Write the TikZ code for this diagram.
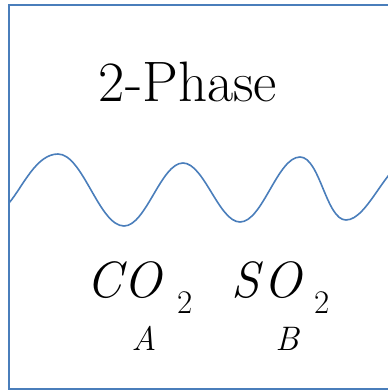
\documentclass[tikz,border=0pt]{standalone}
\usepackage{fontspec}
\usepackage{xcolor}
\usepackage{tikz}
\definecolor{linieblau}{RGB}{74,126,187}

\begin{document}
\begin{tikzpicture}[
  x=1pt,y=-1pt,
  rahmen/.style={draw=linieblau,line width=2pt},
  welle/.style={draw=linieblau,line width=1.6pt,looseness=0.65},
  titel/.style={inner sep=0pt,font=\fontsize{57}{62}\selectfont},
  formel/.style={inner sep=0pt,font=\fontsize{51}{56}\selectfont\itshape},
  index/.style={inner sep=0pt,font=\fontsize{33}{38}\selectfont},
  stoff/.style={inner sep=0pt,font=\fontsize{34}{38}\selectfont\itshape}
]
  \useasboundingbox (0,0) rectangle (388,391);
  \clip (0,0) rectangle (388,391);
  \draw[rahmen] (9,5) rectangle (400,389);

  % interface between the phases
  \draw[welle] (9,203) to[out=50,in=180,looseness=0.8] (58,154)
    to[out=0,in=180] (124,226) to[out=0,in=180] (183,163)
    to[out=0,in=180] (240,222) to[out=0,in=180] (300,157)
    to[out=0,in=180] (346,220) to[out=0,in=180] (410,160);

  \node[titel,anchor=base] (phase) at (188,101) {2-Phase};

  \node[formel,anchor=base west] (co) at (86,297) {C\kern2pt O};
  \node[index,anchor=base west] (co2) at (177,313) {2};
  \node[formel,anchor=base west] (so) at (231,297) {S\kern4pt O};
  \node[index,anchor=base west] (so2) at (314,313) {2};

  \node[stoff,anchor=base] (sa) at (144,350) {A};
  \node[stoff,anchor=base] (sb) at (287,350) {B};
\end{tikzpicture}
\end{document}
